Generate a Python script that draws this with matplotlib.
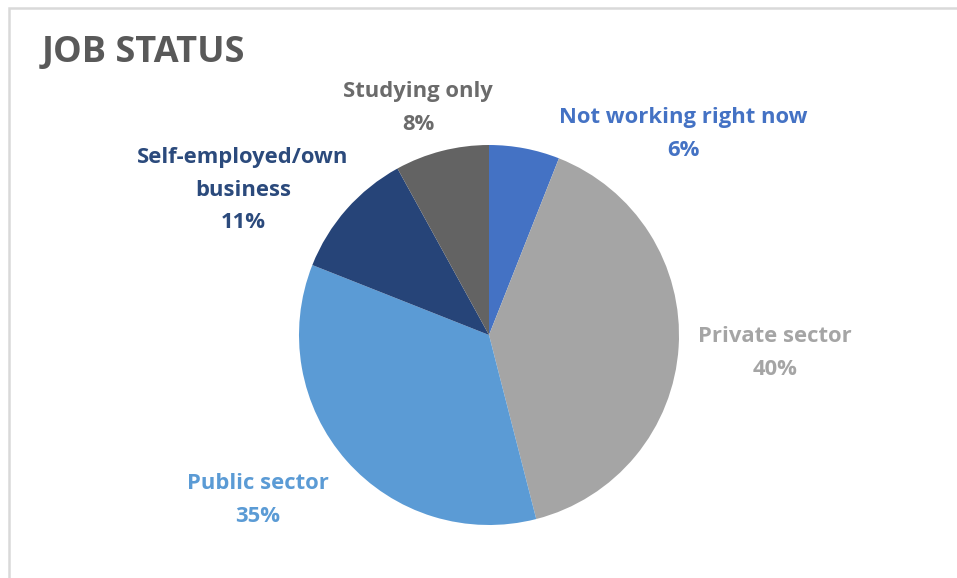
import matplotlib
matplotlib.use("Agg")
import matplotlib.pyplot as plt
from matplotlib.patches import Rectangle

# job status shares, clockwise from 12 o'clock
categories = ["Not working right now", "Private sector", "Public sector",
              "Self-employed/own\nbusiness", "Studying only"]
shares = [6, 40, 35, 11, 8]
colors = ["#4472C4", "#A5A5A5", "#5B9BD5", "#264478", "#636363"]
label_colors = ["#4472C4", "#A5A5A5", "#5B9BD5", "#2B4A7C", "#6B6B6B"]

W, H = 957, 578
fig = plt.figure(figsize=(W / 100, H / 100), dpi=100)
ax = fig.add_axes([0, 0, 1, 1])

# chart border (only the top and left edges are in view)
fig.patches.append(Rectangle((9 / W, -0.1), 1.2, (H - 8) / H + 0.1,
                             transform=fig.transFigure, fill=False,
                             edgecolor="#D9D9D9", linewidth=1.8))

cx, cy, r = 489, H - 335, 190
ax.pie(shares, colors=colors, startangle=90, counterclock=False,
       center=(cx, cy), radius=r, frame=True,
       wedgeprops=dict(linewidth=0))
ax.set_xlim(0, W)
ax.set_ylim(0, H)
ax.set_aspect("equal")
ax.axis("off")

# label anchor points (center of text block)
label_pos = [(683, 134), (775, 353), (258, 500), (243, 190), (418, 108)]
for name, val, col, (x, y) in zip(categories, shares, label_colors, label_pos):
    ax.text(x, H - y, f"{name}\n{val}%", ha="center", va="center",
            color=col, fontsize=15.8, fontweight="bold", family="Open Sans",
            linespacing=1.75)

fig.text(42 / W, 1 - 53 / H, "JOB STATUS", ha="left", va="center",
         color="#595959", fontsize=26, fontweight="bold", family="Open Sans")

fig.savefig("out.png", dpi=100)
